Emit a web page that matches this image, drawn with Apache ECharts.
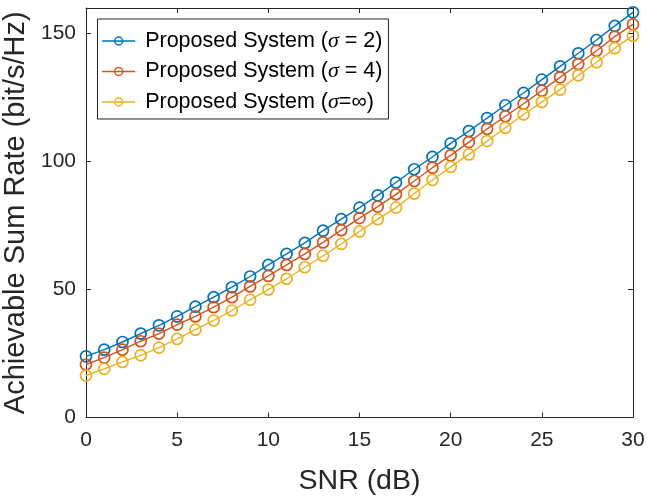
<!DOCTYPE html>
<html>
<head>
<meta charset="utf-8">
<script src="https://cdn.jsdelivr.net/npm/echarts@6/dist/echarts.min.js"></script>
<style>html,body{margin:0;padding:0;background:#fff}#c{width:647px;height:499px}</style>
</head>
<body>
<div id="c"></div>
<script>
const snr = [0,1,2,3,4,5,6,7,8,9,10,11,12,13,14,15,16,17,18,19,20,21,22,23,24,25,26,27,28,29,30];
const sigma2 = [23.9, 26.5, 29.5, 32.8, 36.0, 39.5, 43.3, 47.0, 50.9, 55.1, 59.6, 63.9, 68.2, 73.0, 77.5, 82.0, 86.8, 91.8, 97.0, 101.8, 107.1, 111.9, 117.0, 122.0, 126.8, 132.0, 137.2, 142.3, 147.5, 153.0, 158.3];
const sigma4 = [20.7, 23.4, 26.5, 29.8, 32.8, 36.3, 39.5, 43.1, 47.0, 51.2, 55.3, 59.6, 63.9, 68.4, 73.2, 77.9, 82.4, 87.2, 92.4, 97.6, 102.4, 107.6, 112.8, 117.7, 122.6, 127.7, 132.9, 138.1, 143.3, 148.8, 153.6];
const sigmaInf = [16.4, 19.0, 21.7, 24.3, 27.3, 30.7, 34.3, 37.9, 41.8, 46.0, 50.0, 54.2, 58.7, 63.2, 67.8, 72.7, 77.5, 82.0, 87.5, 92.8, 97.9, 102.8, 108.0, 113.2, 118.4, 123.3, 128.1, 133.7, 138.8, 144.3, 149.2];
const seriesNames = ['Proposed System (σ = 2)', 'Proposed System (σ = 4)', 'Proposed System (σ=∞)'];
const legendRich = ['Proposed System ({i|σ} = 2)', 'Proposed System ({i|σ} = 4)', 'Proposed System ({i|σ}=∞)'];
const xTicks = [0,5,10,15,20,25,30];
const yTicks = [0,50,100,150];

const colors = ['#0072BD', '#D95319', '#EDB120'];
const dataSets = [sigma2, sigma4, sigmaInf];
const font = 'Liberation Sans, Arial, Helvetica, sans-serif';
const axisColor = '#262626';

const chart = echarts.init(document.getElementById('c'), null, {renderer: 'canvas'});

function mkSeries(i) {
  return {
    name: seriesNames[i],
    type: 'line',
    xAxisIndex: 0, yAxisIndex: 0,
    data: snr.map((x, k) => [x, dataSets[i][k]]),
    symbol: 'circle',
    symbolSize: 11,
    showAllSymbol: true,
    lineStyle: {color: colors[i], width: 1.4},
    itemStyle: {color: 'rgba(255,255,255,0)', borderColor: colors[i], borderWidth: 1.7},
    emphasis: {disabled: true},
    animation: false
  };
}

const tickCommon = {show: true, inside: true, length: 5, lineStyle: {color: axisColor, width: 1}};

chart.setOption({
  animation: false,
  grid: {left: 86, right: 14, top: 8, bottom: 81.5, containLabel: false, outerBoundsMode: 'none'},
  legend: {
    left: 97.5, top: 19,
    orient: 'vertical',
    padding: [11, 6, 6, 4],
    itemGap: 8.5,
    itemWidth: 33, itemHeight: 10,
    backgroundColor: '#fff',
    borderColor: axisColor, borderWidth: 1,
    data: seriesNames.map((n, i) => ({name: n, itemStyle: {color: 'rgba(255,255,255,0)', borderColor: colors[i], borderWidth: 1.5}, lineStyle: {color: colors[i], width: 1.3}})),
    formatter: function (name) { return legendRich[seriesNames.indexOf(name)]; },
    textStyle: {
      fontFamily: font, fontSize: 21.5, color: '#000', lineHeight: 20, padding: [0, 0, 0, 5],
      rich: {i: {fontFamily: 'Liberation Serif, Times New Roman, serif', fontStyle: 'italic', fontSize: 22, color: '#000', lineHeight: 20}}
    }
  },
  xAxis: [{
    type: 'value', min: 0, max: 30, interval: 5, position: 'bottom',
    name: 'SNR (dB)', nameLocation: 'middle', nameGap: 49,
    nameTextStyle: {fontFamily: font, fontSize: 28.5, color: axisColor},
    axisLine: {show: true, onZero: false, lineStyle: {color: axisColor, width: 1}},
    axisTick: tickCommon,
    axisLabel: {fontFamily: font, fontSize: 21, color: axisColor, margin: 12,
      formatter: v => xTicks.includes(v) ? String(v) : ''},
    splitLine: {show: false}
  }, {
    type: 'value', min: 0, max: 30, interval: 5, position: 'top',
    axisLine: {show: true, onZero: false, lineStyle: {color: axisColor, width: 1}},
    axisTick: tickCommon, axisLabel: {show: false}, splitLine: {show: false}
  }],
  yAxis: [{
    type: 'value', min: 0, max: 160, interval: 50, position: 'left',
    name: 'Achievable Sum Rate (bit/s/Hz)', nameLocation: 'middle', nameGap: 51,
    nameTextStyle: {fontFamily: font, fontSize: 29, color: axisColor},
    axisLine: {show: true, onZero: false, lineStyle: {color: axisColor, width: 1}},
    axisTick: tickCommon,
    axisLabel: {fontFamily: font, fontSize: 21, color: axisColor, margin: 10, showMaxLabel: false,
      formatter: v => yTicks.includes(v) ? String(v) : ''},
    splitLine: {show: false}
  }, {
    type: 'value', min: 0, max: 160, interval: 50, position: 'right',
    axisLine: {show: true, onZero: false, lineStyle: {color: axisColor, width: 1}},
    axisTick: tickCommon, axisLabel: {show: false}, splitLine: {show: false}
  }],
  series: [mkSeries(0), mkSeries(1), mkSeries(2)]
});
</script>
</body>
</html>
